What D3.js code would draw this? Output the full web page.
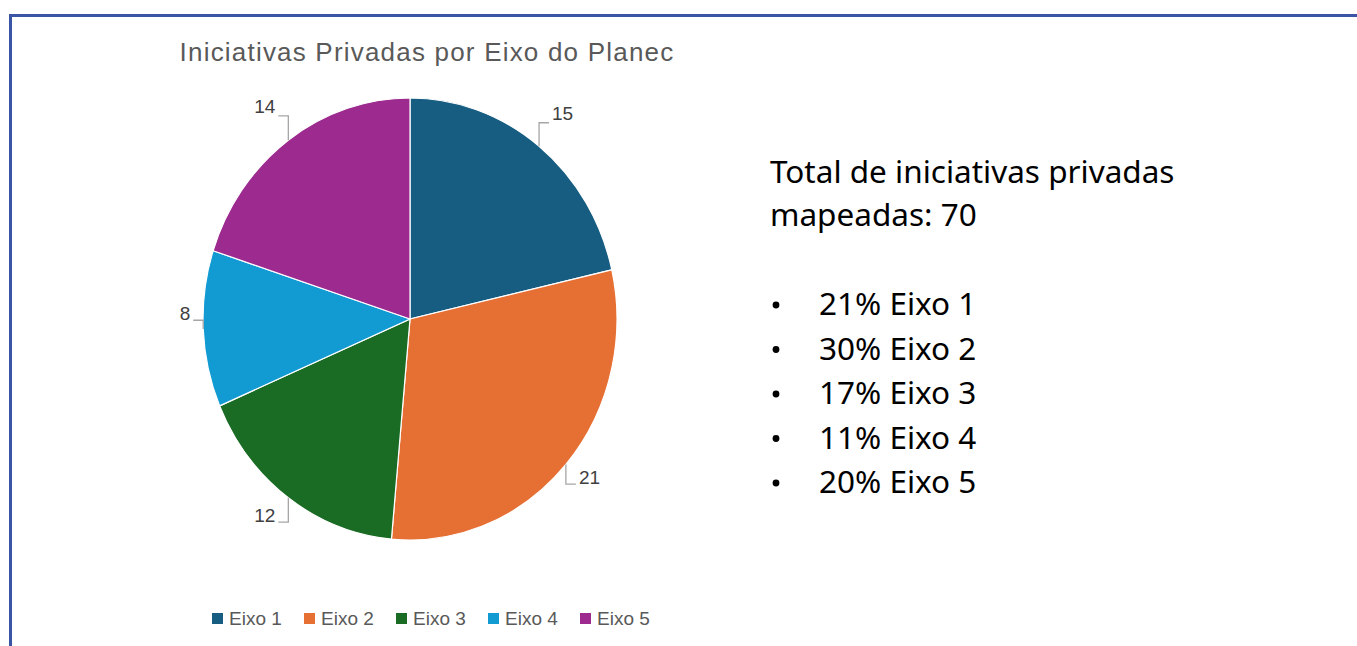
<!DOCTYPE html>
<html>
<head>
<meta charset="utf-8">
<script src="https://cdn.jsdelivr.net/npm/d3@7"></script>
<style>
  html, body { margin: 0; background: #fff; overflow: hidden; }
  svg { display: block; }
</style>
</head>
<body>
<div id="chart"></div>
<script>
// chart data
const categories = ["Eixo 1", "Eixo 2", "Eixo 3", "Eixo 4", "Eixo 5"];
const values = [15, 21, 12, 8, 14];
const colors = ["#175d82", "#e66f34", "#1a6b24", "#129bd3", "#9c2a8f"];
const percentLines = ["21% Eixo 1", "30% Eixo 2", "17% Eixo 3", "11% Eixo 4", "20% Eixo 5"];
const chartTitle = "Iniciativas Privadas por Eixo do Planec";
const totalLines = ["Total de iniciativas privadas", "mapeadas: 70"];

const width = 1357, height = 646;
const cx = 410, cy = 319, rx = 207, ry = 221;

const svg = d3.select("#chart").append("svg")
  .attr("width", width)
  .attr("height", height);

// frame lines (top + left)
svg.append("rect").attr("x", 9).attr("y", 14).attr("width", width - 9).attr("height", 3).attr("fill", "#3b55a6");
svg.append("rect").attr("x", 9).attr("y", 14).attr("width", 3).attr("height", height - 14).attr("fill", "#3b55a6");

// title
svg.append("text")
  .attr("x", 427).attr("y", 61)
  .attr("text-anchor", "middle")
  .style("font-family", "'Liberation Sans', Arial, sans-serif")
  .style("font-size", "26px")
  .style("letter-spacing", "1.2px")
  .style("fill", "#595959")
  .text(chartTitle);

// pie
const pie = d3.pie().sort(null).value(d => d);
const arcs = pie(values);
const arc = d3.arc().innerRadius(0).outerRadius(rx);

const pieG = svg.append("g")
  .attr("transform", `translate(${cx},${cy}) scale(1,${ry / rx})`);

pieG.selectAll("path")
  .data(arcs)
  .join("path")
  .attr("d", arc)
  .attr("fill", (d, i) => colors[i])
  .attr("stroke", "#fff")
  .attr("stroke-width", 1.2)
  .attr("vector-effect", "non-scaling-stroke");

// data labels with elbow leaders
const labelG = svg.append("g");
arcs.forEach((d, i) => {
  const a = (d.startAngle + d.endAngle) / 2;
  const s = Math.sin(a), c = Math.cos(a);
  const px = cx + rx * s, py = cy - ry * c;
  const ey = py - 30 * c - (Math.abs(c) < 0.2 ? 10 : 0);
  const dir = s >= 0 ? 1 : -1;
  const hx = px + dir * 10;
  labelG.append("polyline")
    .attr("points", `${px},${py} ${px},${ey} ${hx},${ey}`)
    .attr("fill", "none")
    .attr("stroke", "#a6a6a6")
    .attr("stroke-width", 1.3);
  labelG.append("text")
    .attr("x", hx + dir * 3)
    .attr("y", ey + (c > 0 ? -3 : 0))
    .attr("text-anchor", dir > 0 ? "start" : "end")
    .style("font-family", "'Liberation Sans', Arial, sans-serif")
    .style("font-size", "19px")
    .style("fill", "#404040")
    .text(values[i]);
});

// legend
const legend = svg.append("g").attr("transform", "translate(212,613)");
const item = legend.selectAll("g")
  .data(categories)
  .join("g")
  .attr("transform", (d, i) => `translate(${i * 92},0)`);
item.append("rect")
  .attr("width", 11).attr("height", 11)
  .attr("fill", (d, i) => colors[i]);
item.append("text")
  .attr("x", 17).attr("y", 12)
  .style("font-family", "'Liberation Sans', Arial, sans-serif")
  .style("font-size", "19px")
  .style("fill", "#595959")
  .text(d => d);

// side text
const side = svg.append("g")
  .style("font-family", "'Noto Sans', sans-serif")
  .style("fill", "#000");
side.selectAll("text.total")
  .data(totalLines)
  .join("text")
  .attr("class", "total")
  .attr("x", 770)
  .attr("y", (d, i) => 183 + i * 43)
  .style("font-size", "31.5px")
  .text(d => d);

const bullets = side.selectAll("g.bullet")
  .data(percentLines)
  .join("g")
  .attr("class", "bullet")
  .attr("transform", (d, i) => `translate(0,${315 + i * 44.5})`);
bullets.append("circle")
  .attr("cx", 776).attr("cy", -10).attr("r", 3.4)
  .attr("fill", "#000");
bullets.append("text")
  .attr("x", 819).attr("y", 0)
  .style("font-size", "31.5px")
  .text(d => d);
</script>
</body>
</html>
